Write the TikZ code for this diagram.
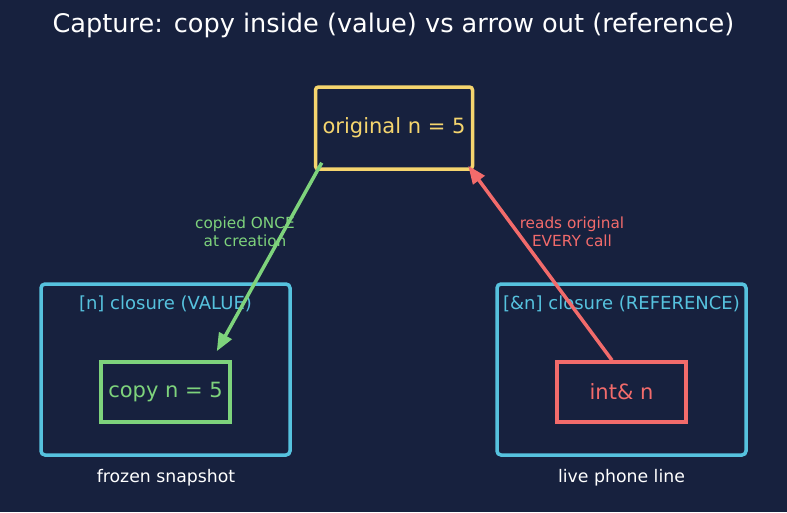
\documentclass[tikz,border=0pt]{standalone}
\usepackage{fontspec}
\setmainfont{DejaVu Sans}
\usepackage{xcolor}
\usepackage{tikz}
\usetikzlibrary{positioning, calc, arrows.meta}
\definecolor{bgnavy}{RGB}{23,33,62}
\definecolor{capyellow}{RGB}{245,213,110}
\definecolor{capgreen}{RGB}{126,211,124}
\definecolor{capred}{RGB}{242,107,107}
\definecolor{capcyan}{RGB}{86,194,222}

\begin{document}
\begin{tikzpicture}[
        x=1pt, y=-1pt,
        every node/.style={font=\fontsize{17}{20}\selectfont},
        orig/.style={rectangle, draw=capyellow, text=capyellow, line width=3.5pt, rounded corners=3pt, minimum width=157pt, minimum height=82pt, font=\fontsize{21}{25}\selectfont},
        closure/.style={rectangle, draw=capcyan, line width=3.5pt, rounded corners=4pt, minimum width=249pt, minimum height=171pt},
        inner/.style={rectangle, line width=3.5pt, minimum width=129pt, minimum height=60pt, font=\fontsize{21}{25}\selectfont},
        cltitle/.style={text=capcyan, font=\fontsize{18}{22}\selectfont},
        foot/.style={text=white, font=\fontsize{17.3}{20}\selectfont},
        tag/.style={align=center, font=\fontsize{15.3}{18}\selectfont},
        arrow/.style={-{Triangle[length=18pt,width=14pt]}, line width=3.5pt}
    ]
        \fill[bgnavy] (0,0) rectangle (787,512);
        \useasboundingbox (0,0) rectangle (787,512);

        % Nodes
        \node[text=white, font=\fontsize{25.6}{30}\selectfont] (title) at (393.5,25) {Capture: copy inside (value) vs arrow out (reference)};
        \node[orig] (original) at (394,128) {original n = 5};
        \node[closure] (valcl) at (165.5,369.5) {};
        \node[closure] (refcl) at (621.5,369.5) {};
        \node[cltitle] (valtitle) at (165.5,304) {[n] closure (VALUE)};
        \node[cltitle] (reftitle) at (621.5,304) {[\&n] closure (REFERENCE)};
        \node[inner, draw=capgreen, text=capgreen] (copyn) at (165.5,392) {copy n = 5};
        \node[inner, draw=capred, text=capred] (intref) at (621.5,392) {int\& n};
        \node[foot] (valfoot) at (166,478) {frozen snapshot};
        \node[foot] (reffoot) at (621.5,478) {live phone line};

        \coordinate (gstart) at ($(original.south west)+(8,-8)$);
        \coordinate (gend) at ($(copyn.north east)+(-15,-9)$);
        \coordinate (rstart) at ($(intref.north)+(-9.5,0)$);
        \coordinate (rend) at ($(original.south east)+(-6,-5)$);

        % Connections
        \draw[arrow, capgreen] (gstart) -- (gend);
        \draw[arrow, capred] (rstart) -- (rend);
        \node[tag, text=capgreen] (copytag) at (245,232) {copied ONCE\\at creation};
        \node[tag, text=capred] (readtag) at (572,232) {reads original\\EVERY call};

    \end{tikzpicture}
\end{document}
